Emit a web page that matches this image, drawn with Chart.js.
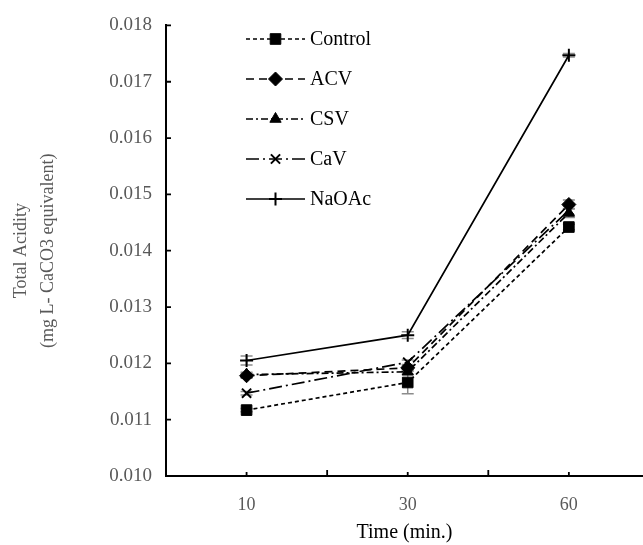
<!DOCTYPE html>
<html>
<head>
<meta charset="utf-8">
<script src="https://cdn.jsdelivr.net/npm/chart.js@4"></script>
<style>
  body { margin: 0; background: #fff; }
  #wrap { width: 643px; height: 545px; }
</style>
</head>
<body>
<div id="wrap"><canvas id="acidChart"></canvas></div>
<script>
var times = ['10', '30', '60'];
var control = [0.01117, 0.01166, 0.01442];
var acv = [0.01178, 0.01192, 0.01482];
var csv = [0.01180, 0.01185, 0.01467];
var cav = [0.01147, 0.01202, 0.01472];
var naoac = [0.01205, 0.01250, 0.01747];
var controlErr = [0.00003, 0.00020, 0.00005];
var acvErr = [0.00004, 0.00004, 0.00008];
var csvErr = [0.00004, 0.00004, 0.00008];
var cavErr = [0.00003, 0.00004, 0.00008];
var naoacErr = [0.00008, 0.00006, 0.00003];
var yTicks = [0.010, 0.011, 0.012, 0.013, 0.014, 0.015, 0.016, 0.017, 0.018];

var serif = '"Liberation Serif", "Times New Roman", serif';

// categories sit at 0,1,2 on the x scale, the axis runs on past the last one
function points(vals) {
    return vals.map(function(v, i) { return { x: i, y: v }; });
}

function series(label, data, err, dash, style, radius) {
    return {
        label: label,
        data: points(data),
        errors: err,
        borderColor: '#000',
        backgroundColor: '#000',
        borderWidth: 1.7,
        borderDash: dash,
        pointStyle: style,
        pointRadius: radius,
        pointBorderWidth: style === 'crossRot' || style === 'cross' ? 2 : 1,
        tension: 0
    };
}

// gray error bars under the markers
var errorBars = {
    id: 'errorBars',
    beforeDatasetsDraw: function(chart) {
        var ctx = chart.ctx, y = chart.scales.y;
        ctx.save();
        ctx.strokeStyle = '#8c8c8c';
        ctx.lineWidth = 1.5;
        chart.data.datasets.forEach(function(ds, i) {
            var meta = chart.getDatasetMeta(i);
            meta.data.forEach(function(pt, j) {
                var e = ds.errors[j];
                var top = y.getPixelForValue(ds.data[j].y + e);
                var bot = y.getPixelForValue(ds.data[j].y - e);
                ctx.beginPath();
                ctx.moveTo(pt.x, top); ctx.lineTo(pt.x, bot);
                ctx.moveTo(pt.x - 6, top); ctx.lineTo(pt.x + 6, top);
                ctx.moveTo(pt.x - 6, bot); ctx.lineTo(pt.x + 6, bot);
                ctx.stroke();
            });
        });
        ctx.restore();
    }
};

// inward tick marks, taller ones between categories
var innerTicks = {
    id: 'innerTicks',
    afterDraw: function(chart) {
        var ctx = chart.ctx, x = chart.scales.x, y = chart.scales.y, a = chart.chartArea;
        ctx.save();
        ctx.strokeStyle = '#000';
        ctx.lineWidth = 1.8;
        ctx.beginPath();
        yTicks.forEach(function(v) {
            var py = y.getPixelForValue(v);
            ctx.moveTo(a.left, py); ctx.lineTo(a.left + 5, py);
        });
        times.forEach(function(t, i) {
            var px = x.getPixelForValue(i);
            ctx.moveTo(px, a.bottom); ctx.lineTo(px, a.bottom - 4);
            var mid = x.getPixelForValue(i + 0.5);
            if (mid < a.right) {
                ctx.moveTo(mid, a.bottom); ctx.lineTo(mid, a.bottom - 6);
            }
        });
        ctx.stroke();
        ctx.restore();
    }
};

// legend inside the plot, with the line style and marker for each series
var lineLegend = {
    id: 'lineLegend',
    afterDraw: function(chart) {
        var ctx = chart.ctx;
        var x0 = 246, x1 = 305, y0 = 39, gap = 40;
        ctx.save();
        chart.data.datasets.forEach(function(ds, i) {
            var yy = y0 + i * gap;
            ctx.strokeStyle = '#000';
            ctx.fillStyle = '#000';
            ctx.lineWidth = ds.borderWidth;
            ctx.setLineDash(ds.borderDash);
            ctx.beginPath();
            ctx.moveTo(x0, yy); ctx.lineTo(x1, yy);
            ctx.stroke();
            ctx.setLineDash([]);
            ctx.lineWidth = ds.pointBorderWidth;
            Chart.helpers.drawPoint(ctx, { pointStyle: ds.pointStyle, radius: ds.pointRadius, rotation: 0, borderWidth: ds.pointBorderWidth }, (x0 + x1) / 2, yy);
            ctx.font = '20px ' + serif;
            ctx.textBaseline = 'middle';
            ctx.fillText(ds.label, x1 + 5, yy + 1);
        });
        ctx.restore();
    }
};

new Chart(document.getElementById('acidChart'), {
    type: 'line',
    data: {
        datasets: [
            series('Control', control, controlErr, [4, 3], 'rect', 7.5),
            series('ACV', acv, acvErr, [8, 5], 'rectRot', 7),
            series('CSV', csv, csvErr, [7, 3, 2, 3], 'triangle', 6.5),
            series('CaV', cav, cavErr, [13, 4, 2, 4], 'crossRot', 6.5),
            series('NaOAc', naoac, naoacErr, [], 'cross', 6.5)
        ]
    },
    options: {
        responsive: true,
        maintainAspectRatio: false,
        animation: false,
        layout: { autoPadding: false, padding: { left: 4, right: 0, top: 24, bottom: 0 } },
        plugins: {
            legend: { display: false },
            tooltip: { enabled: false }
        },
        scales: {
            x: {
                type: 'linear',
                min: -0.5,
                max: 2.46,
                grid: { display: false, drawTicks: false },
                border: { color: '#000', width: 2 },
                afterBuildTicks: function(s) {
                    s.ticks = times.map(function(t, i) { return { value: i }; });
                },
                ticks: {
                    color: '#595959',
                    padding: 18,
                    font: { family: serif, size: 18 },
                    callback: function(v) { return times[v]; }
                },
                title: { display: true, text: 'Time (min.)', color: '#000', padding: { top: 0, bottom: 0 }, font: { family: serif, size: 20 } },
                afterFit: function(s) { s.height = 69; }
            },
            y: {
                min: 0.010,
                max: 0.018,
                grid: { display: false, drawTicks: false },
                border: { color: '#000', width: 2 },
                ticks: {
                    stepSize: 0.001,
                    color: '#595959',
                    padding: 14,
                    font: { family: serif, size: 19 },
                    callback: function(v) { return v.toFixed(3); }
                },
                title: {
                    display: true,
                    text: ['Total Acidity', '(mg L- CaCO3 equivalent)'],
                    color: '#595959',
                    padding: { top: 4, bottom: 0 },
                    font: { family: serif, size: 18, lineHeight: 1.5 }
                },
                afterFit: function(s) { s.width = 162; }
            }
        }
    },
    plugins: [errorBars, innerTicks, lineLegend]
});
</script>
</body>
</html>
